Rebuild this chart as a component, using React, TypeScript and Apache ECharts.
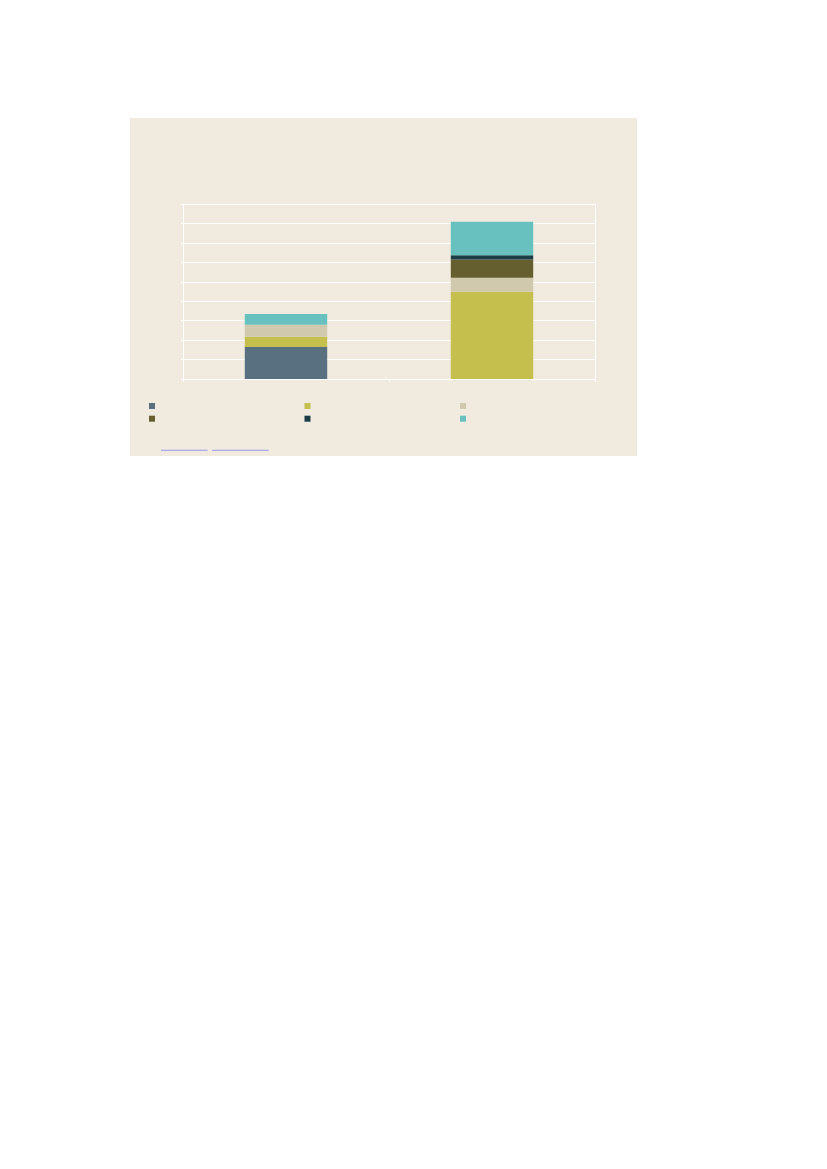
import React, { useEffect, useRef } from "react";
import * as echarts from "echarts";

const categories = ["Group A", "Group B"];
const seriesNames = ["Series 1", "Series 2", "Series 3", "Series 4", "Series 5", "Series 6"];
const seriesColors = ["#587080", "#c5c04e", "#d0c9ad", "#655f2f", "#1c3c48", "#68c1bf"];
const s1 = [1.64, 0];
const s2 = [0.53, 4.49];
const s3 = [0.62, 0.72];
const s4 = [0, 0.93];
const s5 = [0, 0.22];
const s6 = [0.55, 1.73];
const seriesValues = [s1, s2, s3, s4, s5, s6];
const yMin = 0;
const yMax = 9;
const yInterval = 1;

export default function App() {
  const ref = useRef<HTMLDivElement>(null);
  useEffect(() => {
    if (!ref.current) return;
    const chart = echarts.init(ref.current, null, { renderer: "svg" });
    const legendLefts = [19, 174.5, 330];
    const legendTops = [285, 297.7];
    chart.setOption({
      animation: false,
      backgroundColor: "#f0eadf",
      grid: { left: 53, right: 42, top: 86, bottom: 77, containLabel: false },
      legend: seriesNames.map((n, i) => ({
        data: [n],
        left: legendLefts[i % 3],
        top: legendTops[Math.floor(i / 3)],
        itemWidth: 6,
        itemHeight: 6,
        icon: "rect",
        padding: 0,
        selectedMode: false,
        formatter: () => "",
        textStyle: { fontSize: 1 },
      })),
      xAxis: {
        type: "category",
        data: categories,
        axisLine: { show: true, lineStyle: { color: "#ffffff", width: 1 } },
        axisTick: { show: true, length: 3, lineStyle: { color: "#ffffff", width: 1 } },
        axisLabel: { show: false },
        splitLine: { show: false },
      },
      yAxis: [
        {
          type: "value",
          min: yMin,
          max: yMax,
          interval: yInterval,
          axisLine: { show: true, lineStyle: { color: "#ffffff", width: 1 } },
          axisTick: { show: true, length: 2, lineStyle: { color: "#ffffff", width: 1 } },
          axisLabel: { show: false },
          splitLine: { show: true, lineStyle: { color: "#ffffff", width: 1 } },
        },
        {
          type: "value",
          position: "right",
          min: yMin,
          max: yMax,
          interval: yInterval,
          axisLine: { show: true, lineStyle: { color: "#ffffff", width: 1 } },
          axisTick: { show: false },
          axisLabel: { show: false },
          splitLine: { show: false },
        },
      ],
      series: seriesNames.map((n, i) => ({
        name: n,
        type: "bar",
        stack: "total",
        barWidth: "40%",
        data: seriesValues[i],
        itemStyle: { color: seriesColors[i] },
        emphasis: { disabled: true },
      })),
      graphic: [
        {
          type: "line",
          shape: { x1: 31, y1: 332.3, x2: 77.7, y2: 332.3 },
          style: { stroke: "#9b97f2", lineWidth: 1 },
        },
        {
          type: "line",
          shape: { x1: 82, y1: 332.3, x2: 138.7, y2: 332.3 },
          style: { stroke: "#9b97f2", lineWidth: 1 },
        },
      ],
    });
    return () => chart.dispose();
  }, []);
  return (
    <div
      ref={ref}
      style={{ position: "absolute", left: 130, top: 118, width: 507, height: 338 }}
    />
  );
}
